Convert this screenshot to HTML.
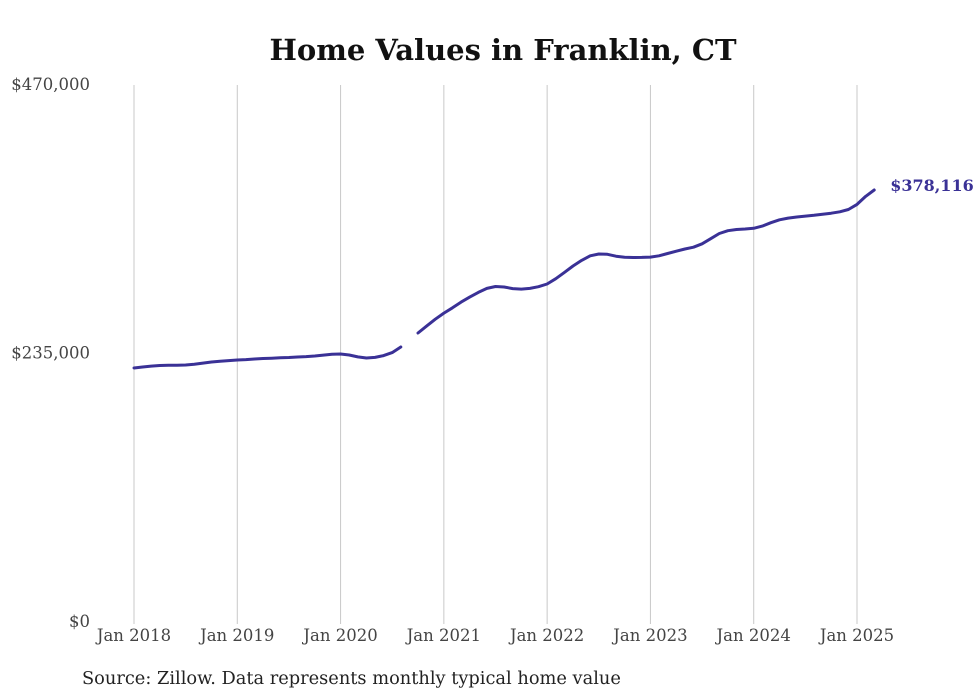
<!DOCTYPE html>
<html><head><meta charset="utf-8"><style>
body{margin:0;background:#fff;}
svg{display:block;}
text{font-family:"DejaVu Serif","Liberation Serif",serif;}
</style></head><body>
<svg id="chart" width="980" height="699">
<text x="503" y="60" text-anchor="middle" font-size="29" font-weight="bold" fill="#111">Home Values in Franklin, CT</text>
<g id="grid"></g><g id="yaxis"></g><g id="xaxis"></g><g id="series"></g>
<text x="82" y="684" font-size="17.8" fill="#222">Source: Zillow. Data represents monthly typical home value</text>
</svg>
<script>
const years=[2018,2019,2020,2021,2022,2023,2024,2025];
const xTickLabels=["Jan 2018","Jan 2019","Jan 2020","Jan 2021","Jan 2022","Jan 2023","Jan 2024","Jan 2025"];
const yTicks=[0,235000,470000];
const yTickLabels=["$0","$235,000","$470,000"];
const startYear=2018;
const values=[
222.3,223.2,224.0,224.5,224.7,224.8,224.9,225.6,226.6,227.6,228.3,228.8,
229.3,229.7,230.2,230.6,230.9,231.2,231.5,231.9,232.3,232.8,233.6,234.4,
234.6,233.7,232.0,231.1,231.6,233.2,235.8,240.7,null,252.9,259.0,265.0,
270.4,275.0,280.0,284.4,288.5,292.0,293.6,293.2,291.8,291.4,292.0,293.5,
295.8,300.5,306.0,311.6,316.5,320.5,322.1,321.8,320.2,319.2,319.0,319.1,
319.4,320.5,322.5,324.5,326.5,328.0,331.0,335.5,340.0,342.5,343.5,344.0,
344.6,346.5,349.5,352.0,353.5,354.5,355.3,356.0,356.8,357.8,359.0,361.0,
365.5,372.5,378.116];
const lastLabel="$378,116";
const NS="http://www.w3.org/2000/svg";
const x=m=>134+m*(723/84);
const y=v=>622-v/470000*537;
function mk(tag,attrs,parent){const e=document.createElementNS(NS,tag);for(const k in attrs)e.setAttribute(k,attrs[k]);parent.appendChild(e);return e;}
const grid=document.getElementById('grid'),xa=document.getElementById('xaxis'),ya=document.getElementById('yaxis'),ser=document.getElementById('series');
years.forEach((yr,i)=>{
 const gx=x((yr-startYear)*12);
 const l=mk('line',{x1:gx,x2:gx,y1:85,y2:624,stroke:'#c8c8c8','stroke-width':1},grid);
 
 
 const t=mk('text',{x:gx,y:641,'text-anchor':'middle','font-size':16.5,fill:'#444'},xa);
 t.textContent=xTickLabels[i];
 
 
});
yTicks.forEach((v,i)=>{
 const t=mk('text',{x:90,y:y(v)+5,'text-anchor':'end','font-size':16.5,fill:'#444'},ya);
 t.textContent=yTickLabels[i];
 
 
});
let segs=[],cur=[];
values.forEach((v,m)=>{if(v===null){if(cur.length)segs.push(cur);cur=[];}else cur.push([x(m),y(v*1000)]);});
if(cur.length)segs.push(cur);
segs.forEach((s,i)=>{
 const p=mk('path',{d:'M'+s.map(p=>p[0].toFixed(1)+','+p[1].toFixed(1)).join('L'),fill:'none',stroke:'#3a3196','stroke-width':3,'stroke-linejoin':'round','stroke-linecap':'round'},ser);
 
 
});
const lm=values.length-1;
const lt=mk('text',{x:x(lm)+16,y:y(values[lm]*1000)+1,'font-size':16,'font-weight':'bold',fill:'#3a3196'},ser);
lt.textContent=lastLabel;


</script>
</body></html>
